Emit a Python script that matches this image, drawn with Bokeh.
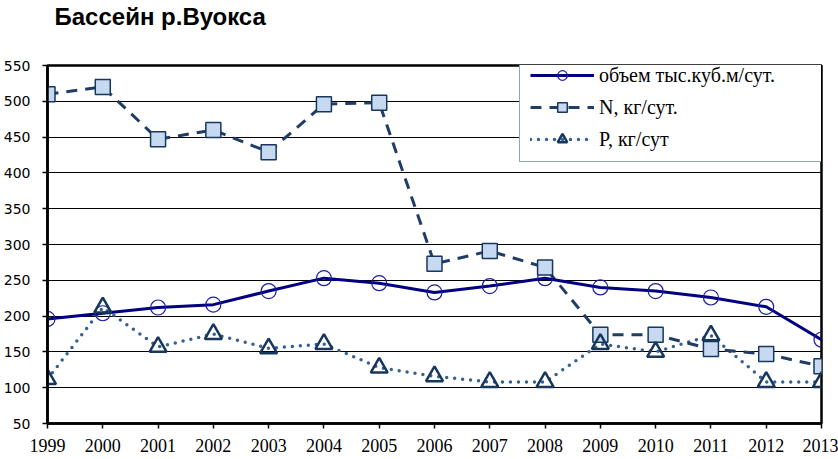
from bokeh.plotting import figure
from bokeh.models import Range1d, FixedTicker, Legend, LegendItem, Title
from bokeh.embed import file_html
from bokeh.resources import INLINE

years = list(range(1999, 2014))
volume = [196, 204, 212, 216, 235, 253, 246, 233, 242, 253, 240, 235, 226, 213, 167]
nitrogen = [510, 520, 447, 460, 429, 496, 498, 273, 291, 268, 174, 174, 154, 147, 130]
phosphorus = [112, 212, 157, 175, 155, 161, 128, 116, 108, 108, 161, 150, 173, 108, 108]
y_ticks = [50, 100, 150, 200, 250, 300, 350, 400, 450, 500, 550]
title_text = "Бассейн р.Вуокса"
labels = ["объем тыс.куб.м/сут.", "N, кг/сут.", "P, кг/сут"]

p = figure(width=838, height=459, output_backend="svg", toolbar_location=None,
           x_range=Range1d(1999, 2013), y_range=Range1d(50, 550),
           min_border_left=46, min_border_right=17, min_border_top=62, min_border_bottom=36)
p.background_fill_color = "white"
p.border_fill_color = "white"
p.outline_line_color = "black"
p.outline_line_width = 2.5

# visible title (outermost panel)
p.title.text = title_text
p.title.text_font = "Liberation Sans"
p.title.text_font_style = "bold"
p.title.text_font_size = "24px"
p.title.text_color = "black"
p.title.align = "left"
p.title.offset = 7
p.title.standoff = 0

# spacer between frame and the visible title
spacer = Title(text=" ", text_font_size="10px", standoff=23)
p.add_layout(spacer, "above")

p.xgrid.visible = False
p.ygrid.grid_line_color = "black"
p.ygrid.grid_line_width = 1
p.yaxis.ticker = FixedTicker(ticks=y_ticks)
p.xaxis.ticker = FixedTicker(ticks=years)

for ax in (p.xaxis, p.yaxis):
    ax.axis_line_color = "black"
    ax.axis_line_width = 2.5
    ax.major_tick_line_color = "black"
    ax.major_tick_line_width = 1.5
    ax.major_tick_out = 5
    ax.major_tick_in = 0
    ax.minor_tick_line_color = None
    ax.major_label_text_color = "black"

p.yaxis.major_label_text_font = "DejaVu Sans"
p.yaxis.major_label_text_font_size = "14px"
p.yaxis.major_label_standoff = 12
p.xaxis.major_label_text_font = "Liberation Serif"
p.xaxis.major_label_text_font_size = "18px"
p.xaxis.major_label_standoff = 10

# lines
l_p = p.line(years, phosphorus, line_color="#376092", line_width=3.5, line_dash="0 8", line_cap="round")
l_n = p.line(years, nitrogen, line_color="#1F3D66", line_width=3, line_dash="11 8")
l_v = p.line(years, volume, line_color="#000080", line_width=3)

m_v = p.scatter(years, volume, marker="circle", size=15, fill_alpha=0,
                line_color="#1C1CA0", line_width=1.2)
m_n = p.scatter(years, nitrogen, marker="square", size=15, fill_color="#C6D9F1",
                line_color="#17375E", line_width=1.5)
m_p = p.scatter(years, phosphorus, marker="triangle", size=17, fill_alpha=0,
                line_color="#17375E", line_width=2.5)

legend = Legend(items=[
    LegendItem(label=labels[0], renderers=[l_v, m_v]),
    LegendItem(label=labels[1], renderers=[l_n, m_n]),
    LegendItem(label=labels[2], renderers=[l_p, m_p]),
], location=(472, 261))
legend.label_text_font = "Liberation Serif"
legend.label_text_font_size = "20px"
legend.label_text_color = "black"
legend.glyph_width = 64
legend.glyph_height = 24
legend.label_height = 24
legend.label_width = 215
legend.spacing = 8
legend.padding = 10
legend.margin = 0
legend.label_standoff = 5
legend.border_line_color = "#1F497D"
legend.border_line_width = 1
legend.background_fill_color = "white"
legend.background_fill_alpha = 1
p.add_layout(legend, "center")

open("out.html", "w").write(file_html(p, INLINE))
